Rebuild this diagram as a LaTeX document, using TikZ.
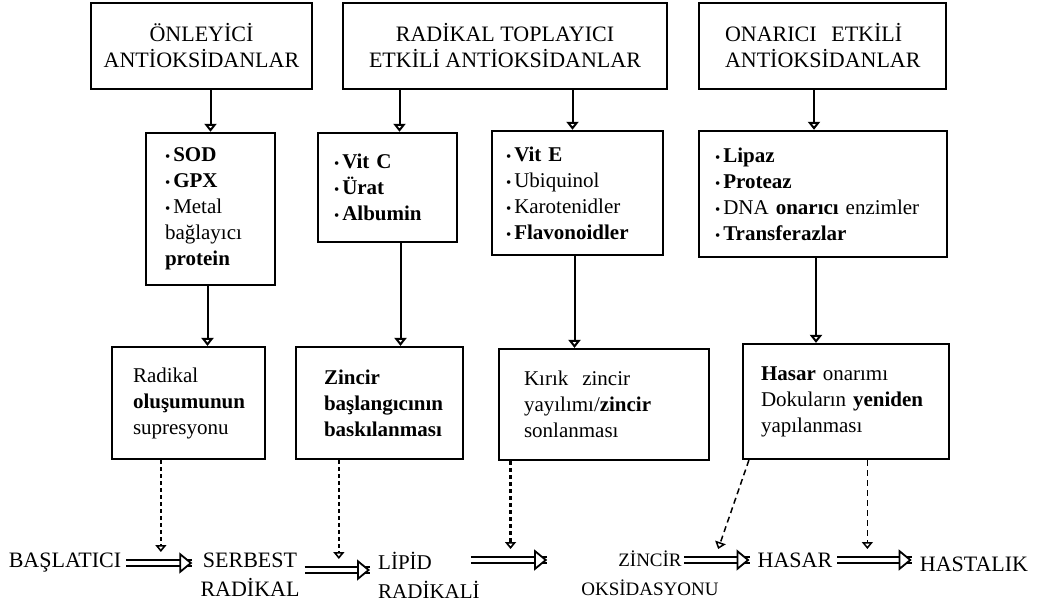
\documentclass[tikz,border=0pt]{standalone}
\usepackage{fontspec}
\setmainfont{Liberation Serif}
\usetikzlibrary{arrows.meta, positioning}

\newcommand{\bul}{{\fontsize{15}{15}\selectfont\textbullet}\hspace{3pt}}

\begin{document}
\begin{tikzpicture}[
      x=1pt, y=-1pt,
      head/.style={draw, line width=2.6pt, minimum height=86pt, align=center, inner sep=0pt, font=\fontsize{22}{26}\selectfont},
      list/.style={draw, line width=2.4pt, align=left, inner ysep=0pt, font=\fontsize{21}{26}\selectfont},
      effect/.style={draw, line width=2.2pt, align=left, inner ysep=0pt, font=\fontsize{21}{26}\selectfont},
      stage/.style={inner sep=0pt, align=center, font=\fontsize{22}{29}\selectfont},
      arr/.style={-{Triangle[open, length=8pt, width=12pt]}, line width=2pt},
      dsh/.style={-{Triangle[open, length=7pt, width=11pt, line width=1.6pt]}, line width=2.6pt, dash pattern=on 4pt off 3pt},
      dshthin/.style={-{Triangle[open, length=7pt, width=11pt]}, line width=1.5pt, dash pattern=on 6pt off 4pt},
      darr/.style={double, double distance=4pt, line width=1.8pt, shorten <=5pt, shorten >=8pt,
        postaction={draw=white, line width=1pt,
          -{Triangle[color=black, fill=white, line width=1.8pt, length=13pt, width=21pt]}}},
    ]
    \useasboundingbox (0,0) rectangle (1046,606);

    % antioksidan gruplari
    \node[head, minimum width=221pt] (onleyici) at (201.5,46) {ÖNLEYİCİ\\ANTİOKSİDANLAR};
    \node[head, minimum width=324pt] (toplayici) at (505,46) {RADİKAL TOPLAYICI\\ETKİLİ ANTİOKSİDANLAR};
    \node[head, align=left, text width=195pt, inner xsep=26pt] (onarici) at (822.5,46) {ONARICI~~ETKİLİ\\ANTİOKSİDANLAR};

    \node[list, text width=91pt, inner xsep=19pt, minimum height=152pt] (onl_list) at (210.5,209)
      {\bul\textbf{SOD}\\\bul\textbf{GPX}\\\bul Metal\\bağlayıcı\\\textbf{protein}};
    \node[list, text width=107pt, inner xsep=16pt, minimum height=109pt] (top_list_l) at (387.5,187.5)
      {\bul\textbf{Vit C}\\\bul\textbf{Ürat}\\\bul\textbf{Albumin}};
    \node[list, text width=143pt, inner xsep=14pt, minimum height=124pt] (top_list_r) at (577.5,193)
      {\bul\textbf{Vit E}\\\bul Ubiquinol\\\bul Karotenidler\\\bul\textbf{Flavonoidler}};
    \node[list, text width=216pt, inner xsep=16pt, minimum height=126pt] (ona_list) at (823,194)
      {\bul\textbf{Lipaz}\\\bul\textbf{Proteaz}\\\bul DNA \textbf{onarıcı} enzimler\\\bul\textbf{Transferazlar}};

    \node[effect, text width=111pt, inner xsep=21pt, minimum height=112pt] (onl_eff) at (188.5,403)
      {Radikal\\\textbf{oluşumunun}\\supresyonu};
    \node[effect, text width=111pt, inner xsep=28pt, minimum height=112pt] (top_eff_l) at (379.5,403)
      {\textbf{Zincir}\\\textbf{başlangıcının}\\\textbf{baskılanması}};
    \node[effect, text width=160pt, inner xsep=25pt, minimum height=111pt] (top_eff_r) at (604,404.5)
      {Kırık~~zincir\\yayılımı/\textbf{zincir}\\sonlanması};
    \node[effect, text width=170pt, inner xsep=18pt, minimum height=115pt] (ona_eff) at (846,401.5)
      {\textbf{Hasar} onarımı\\Dokuların \textbf{yeniden}\\yapılanması};

    % surec
    \node[stage] (baslatici) at (65,563) {BAŞLATICI};
    \node[stage] (serbest) at (250,575) {SERBEST\\RADİKAL};
    \node[stage, anchor=west, align=left, font=\fontsize{21}{29}\selectfont] (lipid) at (378,575) {LİPİD\\RADİKALİ};
    \node[stage, font=\fontsize{19}{29}\selectfont] (zincir) at (650,573) {ZİNCİR\\OKSİDASYONU};
    \node[stage] (hasar) at (795,560) {HASAR};
    \node[stage] (hastalik) at (974,564) {HASTALIK};

    \draw[arr] (onl_list.north |- onleyici.south) -- (onl_list.north);
    \draw[arr] ([xshift=12pt]top_list_l.north |- toplayici.south) -- ([xshift=12pt]top_list_l.north);
    \draw[arr] ([xshift=-5pt]top_list_r.north |- toplayici.south) -- ([xshift=-5pt]top_list_r.north);
    \draw[arr] ([xshift=-9pt]ona_list.north |- onarici.south) -- ([xshift=-9pt]ona_list.north);

    \draw[arr] ([xshift=-3pt]onl_list.south) -- ([xshift=-3pt]onl_list.south |- onl_eff.north);
    \draw[arr] ([xshift=13pt]top_list_l.south) -- ([xshift=13pt]top_list_l.south |- top_eff_l.north);
    \draw[arr] ([xshift=-3pt]top_list_r.south) -- ([xshift=-3pt]top_list_r.south |- top_eff_r.north);
    \draw[arr] ([xshift=-7pt]ona_list.south) -- ([xshift=-7pt]ona_list.south |- ona_eff.north);

    \draw[darr] (baslatici.east) -- coordinate[midway] (r1) (baslatici.east -| serbest.west);
    \draw[darr] ([yshift=5pt]serbest.east) -- coordinate[midway] (r2) ([yshift=5pt]serbest.east -| lipid.west);
    \draw[darr] ([xshift=-14pt]lipid.east |- hasar) -- coordinate[midway] (r3) ([xshift=-26pt]zincir.west |- hasar);
    \draw[darr] ([xshift=-40pt]zincir.east |- hasar) -- coordinate[midway] (r4) (hasar.west);
    \draw[darr] (hasar.east) -- coordinate[pos=0.4] (r5) (hasar.east -| hastalik.west);

    \draw[dsh] (onl_eff.south -| r1) -- ([yshift=11pt]r1);
    \draw[dsh] (top_eff_l.south -| r2) -- ([yshift=11pt]r2);
    \draw[dsh] (top_eff_r.south -| r3) -- ([yshift=11pt]r3);
    \draw[dshthin] ([xshift=7pt]ona_eff.south west) -- ([yshift=11pt]r4);
    \draw[dshthin] (ona_eff.south -| r5) -- ([yshift=11pt]r5);
  \end{tikzpicture}
\end{document}
